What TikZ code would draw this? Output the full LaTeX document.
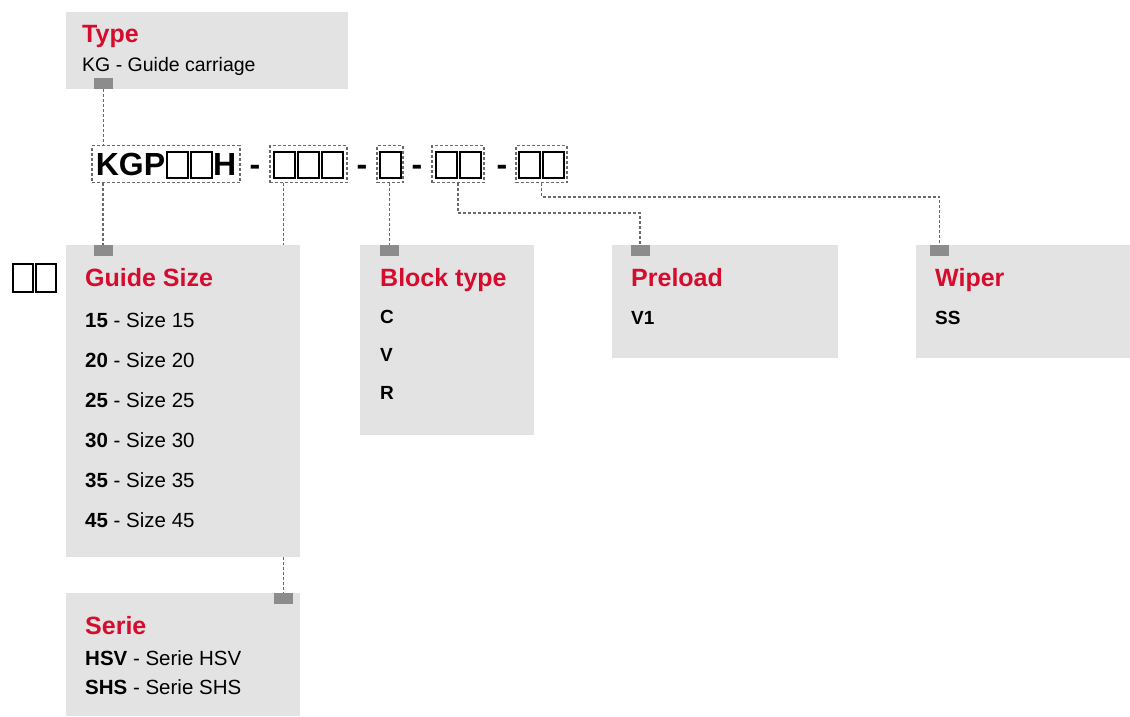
\documentclass[tikz,border=0pt]{standalone}
\usepackage{fontspec}
\setmainfont{Liberation Sans}
\definecolor{boxgray}{RGB}{227,227,227}
\definecolor{markgray}{RGB}{140,140,140}
\definecolor{hdred}{RGB}{213,12,45}
\definecolor{lngray}{RGB}{105,105,105}
\setlength{\fboxsep}{0pt}
\setlength{\fboxrule}{2pt}
\newcommand\mytofu[3]{\fbox{\rule[-#3]{0pt}{#2}\hspace{#1}}}
\newcommand\kt{\kern0.5pt\mytofu{19pt}{24pt}{2pt}\kern0.5pt}
\begin{document}
\begin{tikzpicture}[x=1pt,y=-1pt,
  panel/.style={fill=boxgray,draw=none,rectangle,inner sep=0pt},
  marker/.style={fill=markgray,draw=none,rectangle,inner sep=0pt,minimum width=19pt,minimum height=11pt},
  codebox/.style={draw=lngray,dash pattern=on 3pt off 2pt,line width=1.1pt,inner xsep=0pt,inner ysep=4.5pt,
     text height=25pt,text depth=3pt,font=\fontsize{32}{36}\selectfont\bfseries},
  sep/.style={anchor=base,inner sep=0pt,font=\fontsize{32}{36}\selectfont\bfseries},
  conn/.style={draw=lngray,dash pattern=on 3pt off 2pt,line width=1.1pt},
  head/.style={anchor=base west,inner sep=0pt,text=hdred,font=\fontsize{25}{30}\selectfont\bfseries},
  item/.style={anchor=base west,inner sep=0pt,font=\fontsize{20.5}{24}\selectfont},
  bitem/.style={anchor=base west,inner sep=0pt,font=\fontsize{19}{24}\selectfont\bfseries}
]
\path[use as bounding box] (0,0) rectangle (1130,716);

% panels
\node[panel,minimum width=282pt,minimum height=77pt] (type) at (207,50.5) {};
\node[panel,minimum width=234pt,minimum height=312pt] (size) at (183,401) {};
\node[panel,minimum width=174pt,minimum height=190pt] (block) at (447,340) {};
\node[panel,minimum width=226pt,minimum height=113pt] (pre) at (725,301.5) {};
\node[panel,minimum width=214pt,minimum height=113pt] (wip) at (1023,301.5) {};
\node[panel,minimum width=234pt,minimum height=123pt] (serie) at (183,654.5) {};

% markers
\node[marker] (mtype) at (103.5,83.5) {};
\node[marker] (msize) at (103,250.5) {};
\node[marker] (mblock) at (389.5,250.5) {};
\node[marker] (mpre) at (640,250.5) {};
\node[marker] (mwip) at (939.5,250.5) {};
\node[marker] (mserie) at (283.5,598.5) {};

% code line
\node[codebox,minimum width=148pt] (g1) at (166,164) {KGP\kt\kt H};
\node[sep] (d1) at (255,175) {-};
\node[codebox,minimum width=77pt] (g2) at (308.5,164) {\kt\kt\kt};
\node[sep] (d2) at (362,175) {-};
\node[codebox,minimum width=26pt] (g3) at (390,164) {\kt};
\node[sep] (d3) at (417,175) {-};
\node[codebox,minimum width=52pt] (g4) at (458,164) {\kt\kt};
\node[sep] (d4) at (502,175) {-};
\node[codebox,minimum width=51pt] (g5) at (541.5,164) {\kt\kt};

% left tofus
\node[inner sep=0pt] (lt) at (34.5,278) {\mytofu{18pt}{26pt}{0pt}\kern1pt\mytofu{18pt}{26pt}{0pt}};

% texts
\node[head] (ttype) at (82,42) {Type};
\node[anchor=base west,inner sep=0pt,font=\fontsize{19.5}{24}\selectfont] (ttype1) at (82,71) {KG - Guide carriage};

\node[head] (tsize) at (85,286) {Guide Size};
\node[item] (s1) at (85,327) {\textbf{15} - Size 15};
\node[item] (s2) at (85,367) {\textbf{20} - Size 20};
\node[item] (s3) at (85,407) {\textbf{25} - Size 25};
\node[item] (s4) at (85,447) {\textbf{30} - Size 30};
\node[item] (s5) at (85,487) {\textbf{35} - Size 35};
\node[item] (s6) at (85,527) {\textbf{45} - Size 45};

\node[head] (tblock) at (380,286) {Block type};
\node[bitem] (b1) at (380,323) {C};
\node[bitem] (b2) at (380,361) {V};
\node[bitem] (b3) at (380,399) {R};

\node[head] (tpre) at (631,286) {Preload};
\node[bitem] (p1) at (631,324) {V1};

\node[head] (twip) at (935,286) {Wiper};
\node[bitem] (w1) at (935,324) {SS};

\node[head] (tserie) at (85,634) {Serie};
\node[item] (r1) at (85,665) {\textbf{HSV} - Serie HSV};
\node[item] (r2) at (85,694) {\textbf{SHS} - Serie SHS};

% connectors
\coordinate (k4) at (0,213);
\coordinate (k5) at (0,197);
\draw[conn] (mtype.south) -- (mtype.south |- g1.north);
\draw[conn] (msize.north |- g1.south) -- (msize.north);
\draw[conn] (mserie.north |- g2.south) -- (mserie.north |- size.north);
\draw[conn] (mserie.north |- size.south) -- (mserie.north);
\draw[conn] (mblock.north |- g3.south) -- (mblock.north);
\draw[conn] (g4.south) -- (g4.south |- k4) -| (mpre.north);
\draw[conn] (g5.south) -- (g5.south |- k5) -| (mwip.north);
\end{tikzpicture}
\end{document}
